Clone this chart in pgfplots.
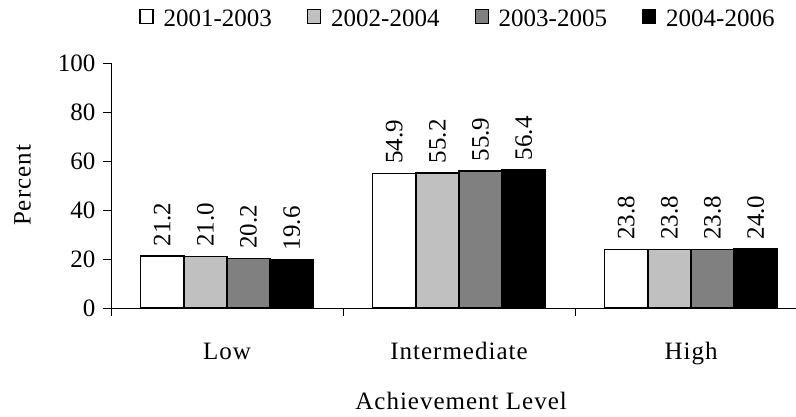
\documentclass[border=0pt]{standalone}
\usepackage{fontspec}
\setmainfont{Liberation Serif}
\newfontfamily\spaced[LetterSpace=4]{Liberation Serif}
\usepackage{pgfplots}
\pgfplotsset{compat=1.18}
\definecolor{lgray}{RGB}{192,192,192}
\definecolor{dgray}{RGB}{128,128,128}
\begin{document}
\begin{tikzpicture}[font=\fontsize{25}{30}\selectfont]
\useasboundingbox (-111pt,-109pt) rectangle (685pt,308pt);
\begin{axis}[
  scale only axis, width=696pt, height=245pt,
  xmin=-0.5, xmax=2.5, ymin=0, ymax=100,
  axis x line*=bottom, axis y line*=left,
  axis line style={line width=0.8pt, -},
  tick style={black, line width=0.8pt},
  tick align=outside, major tick length=8pt,
  ytick={0,20,40,60,80,100},
  yticklabel style={xshift=-4pt},
  xtick={-0.5,0.5,1.5,2.5},
  xticklabels={Low,Intermediate,High},
  x tick label as interval,
  xticklabel style={anchor=base, yshift=-44pt, font=\fontsize{25}{30}\spaced},
  /pgf/number format/assume math mode=true,
  ybar=0pt, bar width=0.186,
  every axis plot/.append style={draw=black, line width=1.5pt},
  nodes near coords,
  nodes near coords style={/pgf/number format/fixed, /pgf/number format/fixed zerofill, /pgf/number format/precision=1},
  every node near coord/.append style={rotate=90, anchor=west, inner sep=9pt, black},
  every axis y label/.style={at={(axis description cs:-0.127,0.5)}, rotate=90, anchor=center, font=\fontsize{25}{30}\spaced},
  ylabel={Percent},
  every axis x label/.style={at={(axis description cs:0.503,-0.416)}, anchor=base, font=\fontsize{25}{30}\spaced},
  xlabel={Achievement Level},
  legend columns=4,
  legend style={draw=none, at={(axis description cs:0.4986,1.18)}, anchor=center,
    /tikz/every even column/.append style={column sep=33pt},
    /tikz/every odd column/.append style={column sep=8pt},
    nodes={inner sep=2pt}},
  legend image code/.code={\draw[#1, line width=1.2pt] (-1pt,-5pt) rectangle (12pt,9pt);},
]
\addplot[fill=white] coordinates {(0,21.2) (1,54.9) (2,23.8)};
\addplot[fill=lgray] coordinates {(0,21.0) (1,55.2) (2,23.8)};
\addplot[fill=dgray] coordinates {(0,20.2) (1,55.9) (2,23.8)};
\addplot[fill=black] coordinates {(0,19.6) (1,56.4) (2,24.0)};
\legend{2001-2003,2002-2004,2003-2005,2004-2006}
\end{axis}
\end{tikzpicture}
\end{document}
